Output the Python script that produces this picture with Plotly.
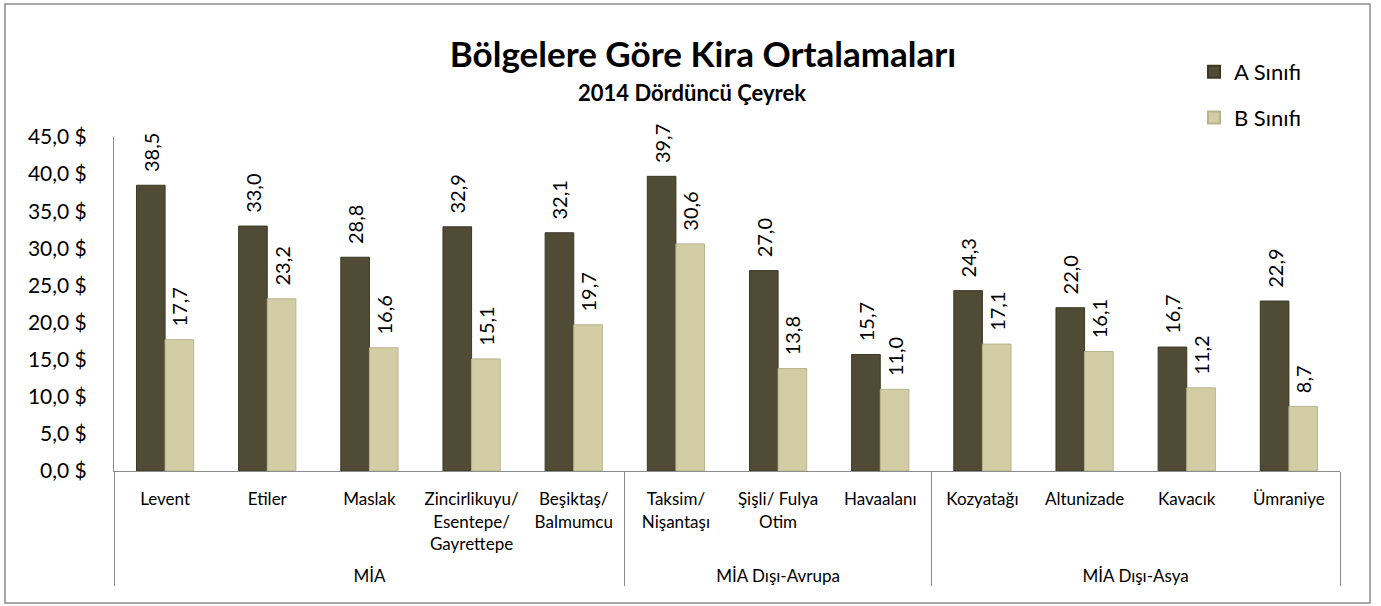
import plotly.graph_objects as go

groups = ["MİA"] * 5 + ["MİA Dışı-Avrupa"] * 3 + ["MİA Dışı-Asya"] * 4
categories = ["Levent", "Etiler", "Maslak", "Zincirlikuyu/<br>Esentepe/<br>Gayrettepe<br>\u00a0",
              "Beşiktaş/<br>Balmumcu", "Taksim/<br>Nişantaşı", "Şişli/ Fulya<br>Otim",
              "Havaalanı", "Kozyatağı", "Altunizade", "Kavacık", "Ümraniye"]
a_sinifi = [38.5, 33.0, 28.8, 32.9, 32.1, 39.7, 27.0, 15.7, 24.3, 22.0, 16.7, 22.9]
b_sinifi = [17.7, 23.2, 16.6, 15.1, 19.7, 30.6, 13.8, 11.0, 17.1, 16.1, 11.2, 8.7]

FONT = "Lato"
x = [groups, categories]

# plot area in pixels (reference)
L, R, T, B = 114, 1340, 137, 471
W, H = R - L, B - T

def px(v):
    return (v - L) / W

def py(v):
    return (B - v) / H

fig = go.Figure()
fig.add_trace(go.Bar(
    name="A Sınıfı", x=x, y=a_sinifi, legendgroup="a",
    marker=dict(color="#4F4B34", line=dict(color="#3A3725", width=1)),
    texttemplate="\u00a0\u00a0%{y:.1f}", textposition="outside", textangle=-90,
    constraintext="none",
    textfont=dict(size=20, color="#000", family=FONT), cliponaxis=False,
))
fig.add_trace(go.Bar(
    name="B Sınıfı", x=x, y=b_sinifi, legendgroup="b",
    marker=dict(color="#D3CDA6", line=dict(color="#B9B38D", width=1)),
    texttemplate="\u00a0\u00a0%{y:.1f}", textposition="outside", textangle=-90,
    constraintext="none",
    textfont=dict(size=20, color="#000", family=FONT), cliponaxis=False,
))

fig.update_layout(
    width=1381, height=606,
    separators=", ",
    paper_bgcolor="white", plot_bgcolor="white",
    margin=dict(l=L, r=1381 - R, t=T, b=606 - B, autoexpand=False),
    font=dict(family=FONT, color="#000"),
    barmode="group", bargap=0.44, bargroupgap=0,
    showlegend=True,
    legend=dict(x=px(1194), y=py(51), xanchor="left", yanchor="top",
                font=dict(size=22, family=FONT), itemsizing="constant",
                tracegroupgap=14, bgcolor="rgba(0,0,0,0)"),
    title=dict(text="<b>Bölgelere Göre Kira Ortalamaları</b>",
               x=703 / 1381, xanchor="center", y=1 - 55 / 606, yanchor="middle",
               font=dict(size=35, family=FONT)),
    annotations=[dict(text="<b>2014 Dördüncü Çeyrek</b>", xref="paper", yref="paper",
                      x=px(692), y=py(92), xanchor="center",
                      yanchor="middle", showarrow=False, font=dict(size=22, family=FONT))],
    shapes=[dict(type="rect", xref="paper", yref="paper",
                 x0=px(5), x1=px(1370), y0=py(603), y1=py(4),
                 line=dict(color="#8C8C8C", width=1.5), fillcolor="rgba(0,0,0,0)", layer="below")],
)
fig.update_yaxes(range=[0, 45], dtick=5, tickformat=".1f", ticksuffix=" $",
                 showgrid=False, showline=True, linecolor="#8C8C8C", linewidth=1,
                 ticks="", ticklabelstandoff=22, tickfont=dict(size=21, family=FONT),
                 zeroline=False)
fig.update_xaxes(type="multicategory", showline=True, linecolor="#8C8C8C", linewidth=1,
                 showdividers=True, dividercolor="#8C8C8C", dividerwidth=1,
                 tickangle=0, ticklabelstandoff=13,
                 tickfont=dict(size=17, family=FONT), ticks="", showgrid=False)

fig.write_html("out.html", config={"displayModeBar": False},
               post_script="document.body.style.margin='0';")
